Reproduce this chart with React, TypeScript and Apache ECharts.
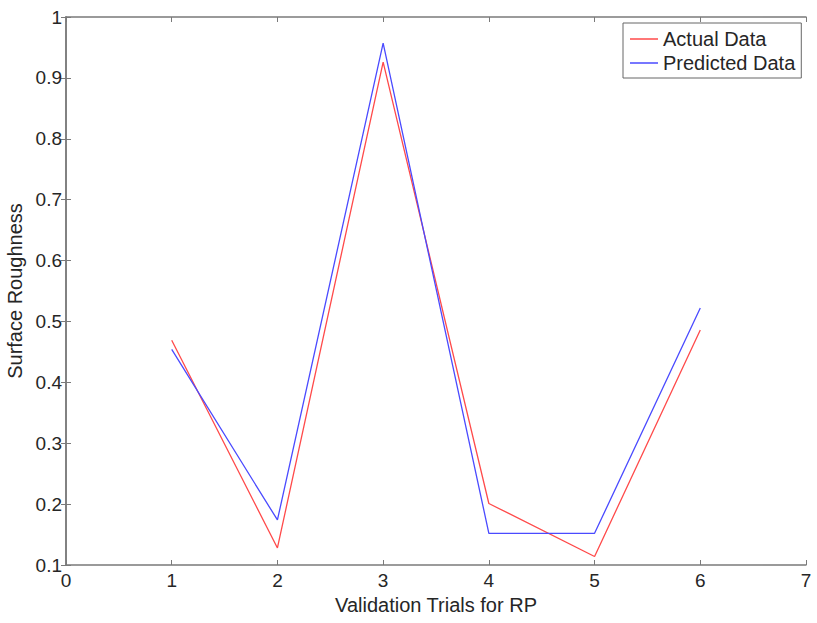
import React, { useEffect, useRef } from "react";
import * as echarts from "echarts";

const trials = [1, 2, 3, 4, 5, 6];
const actualData = [0.469, 0.128, 0.926, 0.201, 0.114, 0.486];
const predictedData = [0.454, 0.174, 0.957, 0.152, 0.152, 0.522];

const fmt = (v: number) => String(Math.round(v * 10) / 10);

const RED = "#ff4a4a";
const BLUE = "#4a4aff";

export default function App() {
  const ref = useRef<HTMLDivElement>(null);
  useEffect(() => {
    if (!ref.current) return;
    const chart = echarts.init(ref.current, undefined, { renderer: "svg" });
    const axisColor = "#7a7a7a";
    const textColor = "#262626";
    const font = "Arial, 'Liberation Sans', sans-serif";
    const common = {
      axisLine: { show: true, lineStyle: { color: axisColor, width: 1.5 } },
      axisTick: { show: true, inside: true, length: 5, lineStyle: { color: axisColor } },
      splitLine: { show: false },
    };
    chart.setOption({
      animation: false,
      backgroundColor: "#ffffff",
      textStyle: { fontFamily: font },
      grid: { left: 66, right: 11, top: 17, bottom: 58, containLabel: false, outerBoundsMode: "none" },
      legend: {
        left: 623,
        top: 23,
        orient: "vertical",
        padding: [6, 6, 5, 7],
        itemGap: 4,
        itemWidth: 28,
        itemHeight: 1.5,
        icon: "rect",
        borderColor: "#666666",
        borderWidth: 1,
        backgroundColor: "#ffffff",
        textStyle: { fontSize: 20, lineHeight: 20, color: textColor, fontFamily: font },
        data: [
          { name: "Actual Data", icon: "rect", itemStyle: { color: RED, borderWidth: 0 } },
          { name: "Predicted Data", icon: "rect", itemStyle: { color: BLUE, borderWidth: 0 } },
        ],
      },
      xAxis: [
        {
          type: "value",
          min: 0,
          max: 7,
          interval: 1,
          ...common,
          axisLabel: { fontSize: 19, color: textColor, margin: 6, formatter: fmt },
          name: "Validation Trials for RP",
          nameLocation: "middle",
          nameGap: 24,
          nameTextStyle: { fontSize: 20, color: textColor },
        },
        {
          type: "value",
          position: "top",
          min: 0,
          max: 7,
          interval: 1,
          ...common,
          axisLabel: { show: false },
        },
      ],
      yAxis: [
        {
          type: "value",
          min: 0.1,
          max: 1,
          interval: 0.1,
          ...common,
          axisLabel: { fontSize: 19, color: textColor, margin: 4, formatter: fmt },
          name: "Surface Roughness",
          nameLocation: "middle",
          nameGap: 37,
          nameTextStyle: { fontSize: 20, color: textColor },
        },
        {
          type: "value",
          position: "right",
          min: 0.1,
          max: 1,
          interval: 0.1,
          ...common,
          axisLabel: { show: false },
        },
      ],
      series: [
        {
          name: "Actual Data",
          type: "line",
          data: trials.map((t, i) => [t, actualData[i]]),
          symbol: "none",
          lineStyle: { color: RED, width: 1.3 },
          itemStyle: { color: RED },
        },
        {
          name: "Predicted Data",
          type: "line",
          data: trials.map((t, i) => [t, predictedData[i]]),
          symbol: "none",
          lineStyle: { color: BLUE, width: 1.3 },
          itemStyle: { color: BLUE },
        },
      ],
    });
    return () => chart.dispose();
  }, []);
  return (
    <div
      ref={ref}
      style={{ position: "fixed", left: 0, top: 0, width: 817, height: 623, background: "#fff" }}
    />
  );
}
